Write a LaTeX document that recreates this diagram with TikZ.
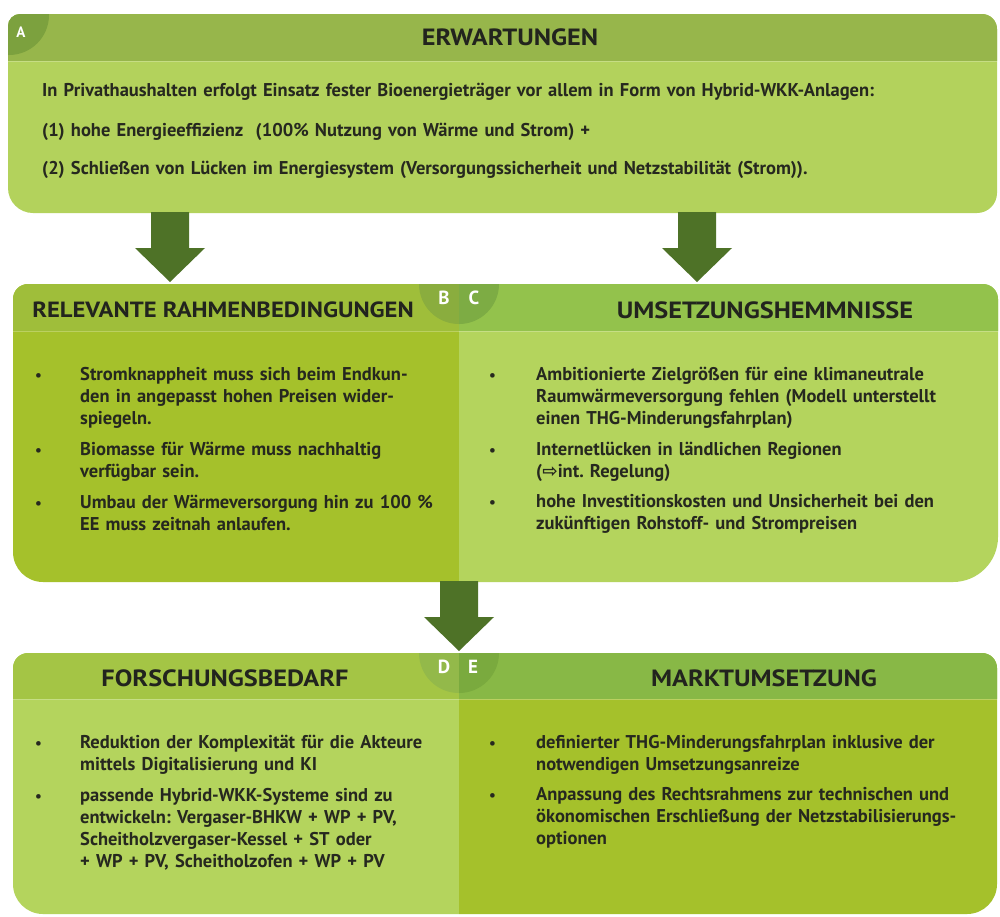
\documentclass[tikz,border=0pt]{standalone}
\usepackage{fontspec}
\setmainfont{PT Sans}
\newfontfamily\hdrfont{PT Sans}[FakeStretch=1.12]
\newfontfamily\djv{DejaVu Sans}
\usetikzlibrary{calc}

\definecolor{arrowc}{HTML}{4E7227}
\definecolor{hdrA}{HTML}{97B64B}
\definecolor{bodyA}{HTML}{B3D25C}
\definecolor{badgeA}{HTML}{7CA13E}
\definecolor{hdrB}{HTML}{9FBE3A}
\definecolor{bodyB}{HTML}{A5C12B}
\definecolor{hdrC}{HTML}{93C24C}
\definecolor{bodyC}{HTML}{B4D45D}
\definecolor{badgeL}{HTML}{8AAD3E}
\definecolor{badgeR}{HTML}{7DAC44}
\definecolor{hdrD}{HTML}{A4C545}
\definecolor{bodyD}{HTML}{B4D45D}
\definecolor{hdrE}{HTML}{88B846}
\definecolor{bodyE}{HTML}{A5C12B}
\definecolor{badgeDL}{HTML}{93B94A}
\definecolor{badgeDR}{HTML}{7AAA3E}
\definecolor{hdrtext}{HTML}{22241E}
\definecolor{bodytext}{HTML}{26281F}

\newcommand{\rrpath}[8]{%
 ({#1+#5},#2) -- ({#3-#6},#2) .. controls ({#3-0.448*#6},#2) and (#3,{#2+0.448*#6}) .. (#3,{#2+#6})
 -- (#3,{#4-#7}) .. controls (#3,{#4-0.448*#7}) and ({#3-0.448*#7},#4) .. ({#3-#7},#4)
 -- ({#1+#8},#4) .. controls ({#1+0.448*#8},#4) and (#1,{#4-0.448*#8}) .. (#1,{#4-#8})
 -- (#1,{#2+#5}) .. controls (#1,{#2+0.448*#5}) and ({#1+0.448*#5},#2) .. ({#1+#5},#2) -- cycle}

\newcommand{\blockarrow}[2]{%
 \fill[arrowc] ($(#1)+(-19,0)$) -- ($(#1)+(19,0)$) -- ($(#2)+(19,-34)$) -- ($(#2)+(35,-34)$)
   -- (#2) -- ($(#2)+(-35,-34)$) -- ($(#2)+(-19,-34)$) -- cycle;}

\begin{document}
\frenchspacing
\begin{tikzpicture}[x=1pt,y=-1pt,
  hdr/.style={font=\hdrfont\fontsize{23.5}{26}\selectfont\bfseries, text=hdrtext, inner sep=0pt, anchor=center},
  bodytxt/.style={font=\fontsize{18.5}{22}\selectfont\bfseries, text=bodytext, inner sep=0pt, anchor=base west, align=left, text width=470pt},
  bul/.style={font=\fontsize{15}{22}\selectfont\bfseries, text=bodytext, inner sep=0pt, anchor=base west},
  badgelbl/.style={font=\fontsize{19}{19}\selectfont\bfseries, text=white, inner sep=0pt, anchor=center},
  sepline/.style={white, opacity=0.25, line width=1pt}
]
\useasboundingbox (0,0) rectangle (1000,916);
\fill[white] (0,0) rectangle (1000,916);

% ---------- Box A ----------
\begin{scope}
\clip \rrpath{8}{14}{997}{213}{12}{15}{20}{25};
\fill[bodyA] (0,0) rectangle (1000,220);
\fill[hdrA] (0,0) rectangle (1000,61);
\fill[badgeA] (9,15) circle[radius=40pt];
\draw[sepline] (0,61) -- (1000,61);
\end{scope}

% ---------- Row B / C ----------
\begin{scope}
\clip \rrpath{13}{284}{998}{582}{15}{15}{45}{30};
\fill[bodyB] (0,280) rectangle (459,600);
\fill[bodyC] (459,280) rectangle (1000,600);
\fill[hdrB] (0,280) rectangle (459,331);
\fill[hdrC] (459,280) rectangle (1000,331);
\begin{scope}
\clip (0,250) rectangle (459,400);
\fill[badgeL] (459,284) circle[radius=40pt];
\end{scope}
\begin{scope}
\clip (459,250) rectangle (1000,400);
\fill[badgeR] (459,284) circle[radius=40pt];
\end{scope}
\draw[sepline] (0,331) -- (1000,331);
\end{scope}

% ---------- Row D / E ----------
\begin{scope}
\clip \rrpath{13}{653}{997}{914}{15}{15}{30}{30};
\fill[bodyD] (0,650) rectangle (459,920);
\fill[bodyE] (459,650) rectangle (1000,920);
\fill[hdrD] (0,650) rectangle (459,699);
\fill[hdrE] (459,650) rectangle (1000,699);
\begin{scope}
\clip (0,620) rectangle (459,760);
\fill[badgeDL] (459,653) circle[radius=40pt];
\end{scope}
\begin{scope}
\clip (459,620) rectangle (1000,760);
\fill[badgeDR] (459,653) circle[radius=40pt];
\end{scope}
\draw[sepline] (0,699) -- (1000,699);
\end{scope}

% ---------- Arrows ----------
\coordinate (ar1s) at (170,212);
\coordinate (ar1e) at (170,282);
\coordinate (ar2s) at (697,212);
\coordinate (ar2e) at (697,282);
\coordinate (ar3s) at (459,581);
\coordinate (ar3e) at (459,651);
\blockarrow{ar1s}{ar1e}
\blockarrow{ar2s}{ar2e}
\blockarrow{ar3s}{ar3e}

% ---------- Badge letters ----------
\node[badgelbl, font=\fontsize{15}{15}\selectfont\bfseries] (lA) at (21,32) {A};
\node[badgelbl] (lB) at (444,298) {B};
\node[badgelbl] (lC) at (474,298) {C};
\node[badgelbl] (lD) at (444,667) {D};
\node[badgelbl] (lE) at (473,667) {E};

% ---------- Headers ----------
\node[hdr] (hA) at (510,37) {ERWARTUNGEN};
\node[hdr, font=\hdrfont\fontsize{22}{25}\selectfont\bfseries] (hB) at (223,310) {RELEVANTE RAHMENBEDINGUNGEN};
\node[hdr] (hC) at (765,310) {UMSETZUNGSHEMMNISSE};
\node[hdr] (hD) at (225,678) {FORSCHUNGSBEDARF};
\node[hdr] (hE) at (764,678) {MARKTUMSETZUNG};

% ---------- Box A text ----------
\node[bodytxt, text width=950pt] (tA1) at (42,96) {In Privathaushalten erfolgt Einsatz fester Bioenergieträger vor allem in Form von Hybrid-WKK-Anlagen:};
\node[bodytxt, text width=950pt] (tA2) at (42,136) {(1) hohe Energieeffizienz\ \ (100\% Nutzung von Wärme und Strom) +};
\node[bodytxt, text width=950pt] (tA3) at (42,174) {(2) Schließen von Lücken im Energiesystem (Versorgungssicherheit und Netzstabilität (Strom)).};

% ---------- B text ----------
\node[bul] (bB1) at (35,380) {•};
\node[bodytxt] (tB1) at (80,380) {Stromknappheit muss sich beim Endkun-\\den in angepasst hohen Preisen wider-\\spiegeln.};
\node[bul] (bB2) at (35,455) {•};
\node[bodytxt] (tB2) at (80,455) {Biomasse für Wärme muss nachhaltig\\verfügbar sein.};
\node[bul] (bB3) at (35,508) {•};
\node[bodytxt] (tB3) at (80,508) {Umbau der Wärmeversorgung hin zu 100 \%\\EE muss zeitnah anlaufen.};

% ---------- C text ----------
\node[bul] (bC1) at (489,380) {•};
\node[bodytxt] (tC1) at (536,380) {Ambitionierte Zielgrößen für eine klimaneutrale\\Raumwärmeversorgung fehlen (Modell unterstellt\\einen THG-Minderungsfahrplan)};
\node[bul] (bC2) at (489,455) {•};
\node[bodytxt] (tC2) at (536,455) {Internetlücken in ländlichen Regionen\\({\djv ⇨}int. Regelung)};
\node[bul] (bC3) at (489,507) {•};
\node[bodytxt] (tC3) at (536,507) {hohe Investitionskosten und Unsicherheit bei den\\zukünftigen Rohstoff- und Strompreisen};

% ---------- D text ----------
\node[bul] (bD1) at (35,748) {•};
\node[bodytxt] (tD1) at (80,748) {Reduktion der Komplexität für die Akteure\\mittels Digitalisierung und KI};
\node[bul] (bD2) at (35,801) {•};
\node[bodytxt] (tD2) at (80,801) {passende Hybrid-WKK-Systeme sind zu\\entwickeln: Vergaser-BHKW + WP + PV,\\Scheitholzvergaser-Kessel + ST oder\\+ WP + PV, Scheitholzofen + WP + PV};

% ---------- E text ----------
\node[bul] (bE1) at (489,748) {•};
\node[bodytxt] (tE1) at (536,748) {definierter THG-Minderungsfahrplan inklusive der\\notwendigen Umsetzungsanreize};
\node[bul] (bE2) at (489,800) {•};
\node[bodytxt] (tE2) at (536,800) {Anpassung des Rechtsrahmens zur technischen und\\ökonomischen Erschließung der Netzstabilisierungs-\\optionen};
\end{tikzpicture}
\end{document}
